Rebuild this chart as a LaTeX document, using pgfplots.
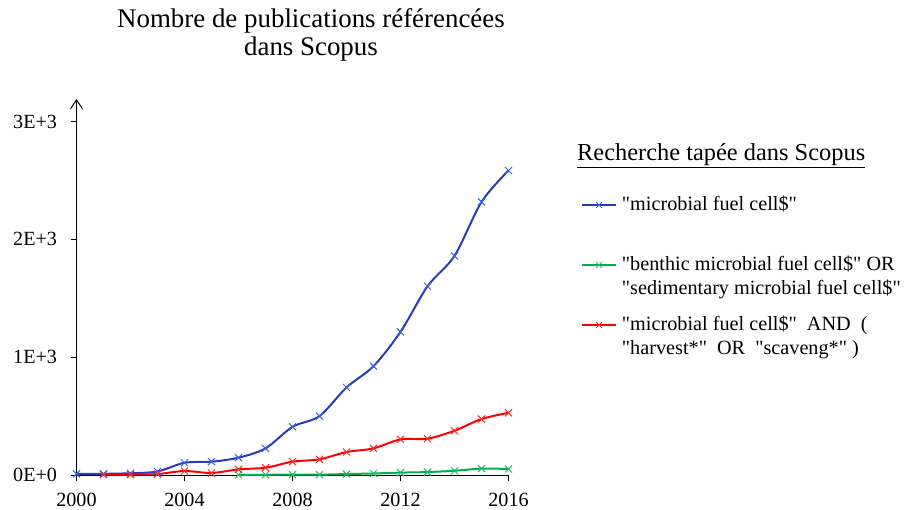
\documentclass[border=0pt]{standalone}
\usepackage{fontspec}
\setmainfont{Liberation Serif}[Ligatures=TeXOff]
\usepackage{pgfplots}
\pgfplotsset{compat=1.18}
\usetikzlibrary{arrows.meta}
\definecolor{blueline}{RGB}{40,60,185}
\definecolor{bluemark}{RGB}{60,100,225}
\definecolor{greenline}{RGB}{0,176,80}
\definecolor{greenmark}{RGB}{30,190,100}
\definecolor{redline}{RGB}{255,0,0}
\definecolor{redmark}{RGB}{255,40,40}

\begin{document}
\begin{tikzpicture}
\begin{axis}[
  at={(0,0)}, anchor=south west,
  scale only axis, width=432bp, height=376bp,
  xmin=2000, xmax=2016, ymin=0, ymax=3192,
  axis x line*=bottom, axis y line*=left,
  axis line style={line width=1bp, black},
  y axis line style={-{Straight Barb[length=9bp,width=12bp]}},
  xtick={2000,2004,2008,2012,2016},
  xticklabels={2000,2004,2008,2012,2016},
  ytick={0,1000,2000,3000},
  yticklabels={0E+0,1E+3,2E+3,3E+3},
  tick align=outside, major tick length=6bp,
  tick style={line width=1bp, black},
  ticklabel style={font=\fontsize{20.2}{24}\selectfont},
  xticklabel style={yshift=-9bp},
  yticklabel style={xshift=-10bp},
  clip=false,
  legend image code/.code={\draw[mark repeat=2,mark phase=2,#1, mark size=4bp] plot coordinates {(0bp,6bp) (17bp,6bp) (34bp,6bp)};},
  legend style={at={(axis description cs:1.1678,0.7447)}, anchor=north west,
    draw=none, fill=none, inner sep=0pt, outer sep=0pt,
    column sep=5bp, row sep=0pt,
    font=\fontsize{20.3}{23.5}\selectfont,
    cells={anchor=base west},
    nodes={inner sep=0pt, outer sep=0pt, text height=16bp, text depth=44bp}},
]
\addplot[smooth, color=blueline, line width=2bp, mark=x, mark size=5bp,
  mark options={solid, line width=1bp, draw=bluemark}] coordinates {
(2000,10) (2001,10) (2002,15) (2003,30) (2004,104) (2005,113) (2006,147)
(2007,226) (2008,409) (2009,500) (2010,743) (2011,924) (2012,1215)
(2013,1602) (2014,1860) (2015,2318) (2016,2585)};
\addlegendentry{"microbial fuel cell\$"}
\addplot[smooth, color=greenline, line width=2bp, mark=x, mark size=5bp,
  mark options={solid, line width=1bp, draw=greenmark}] coordinates {
(2006,2) (2007,2) (2008,3) (2009,3) (2010,8) (2011,13) (2012,20)
(2013,25) (2014,36) (2015,54) (2016,51)};
\addlegendentry{\vtop{\hbox{"benthic microbial fuel cell\$" OR}\hbox{"sedimentary microbial fuel cell\$"}}}
\addplot[smooth, color=redline, line width=2bp, mark=x, mark size=5bp,
  mark options={solid, line width=1bp, draw=redmark}] coordinates {
(2001,3) (2002,3) (2003,8) (2004,34) (2005,17) (2006,48) (2007,62)
(2008,113) (2009,133) (2010,195) (2011,226) (2012,302) (2013,308)
(2014,376) (2015,475) (2016,528)};
\addlegendentry{\vtop{\hbox{"microbial fuel cell\$"\ \ AND\ \ (}\hbox{"harvest*"\ \ OR\ \ "scaveng*"\ )}}}
\end{axis}
\node[anchor=base, inner sep=0pt, font=\fontsize{27}{28}\selectfont] at (234.5bp,447bp) {Nombre de publications référencées};
\node[anchor=base, inner sep=0pt, font=\fontsize{27}{28}\selectfont] at (234.5bp,419bp) {dans Scopus};
\node[anchor=base west, inner sep=0pt, font=\fontsize{24.5}{28}\selectfont] at (500.5bp,314bp) {\underline{Recherche tapée dans Scopus}};
\pgfresetboundingbox
\path (-76.5bp,-35bp) rectangle (832.5bp,475bp);
\end{tikzpicture}
\end{document}
